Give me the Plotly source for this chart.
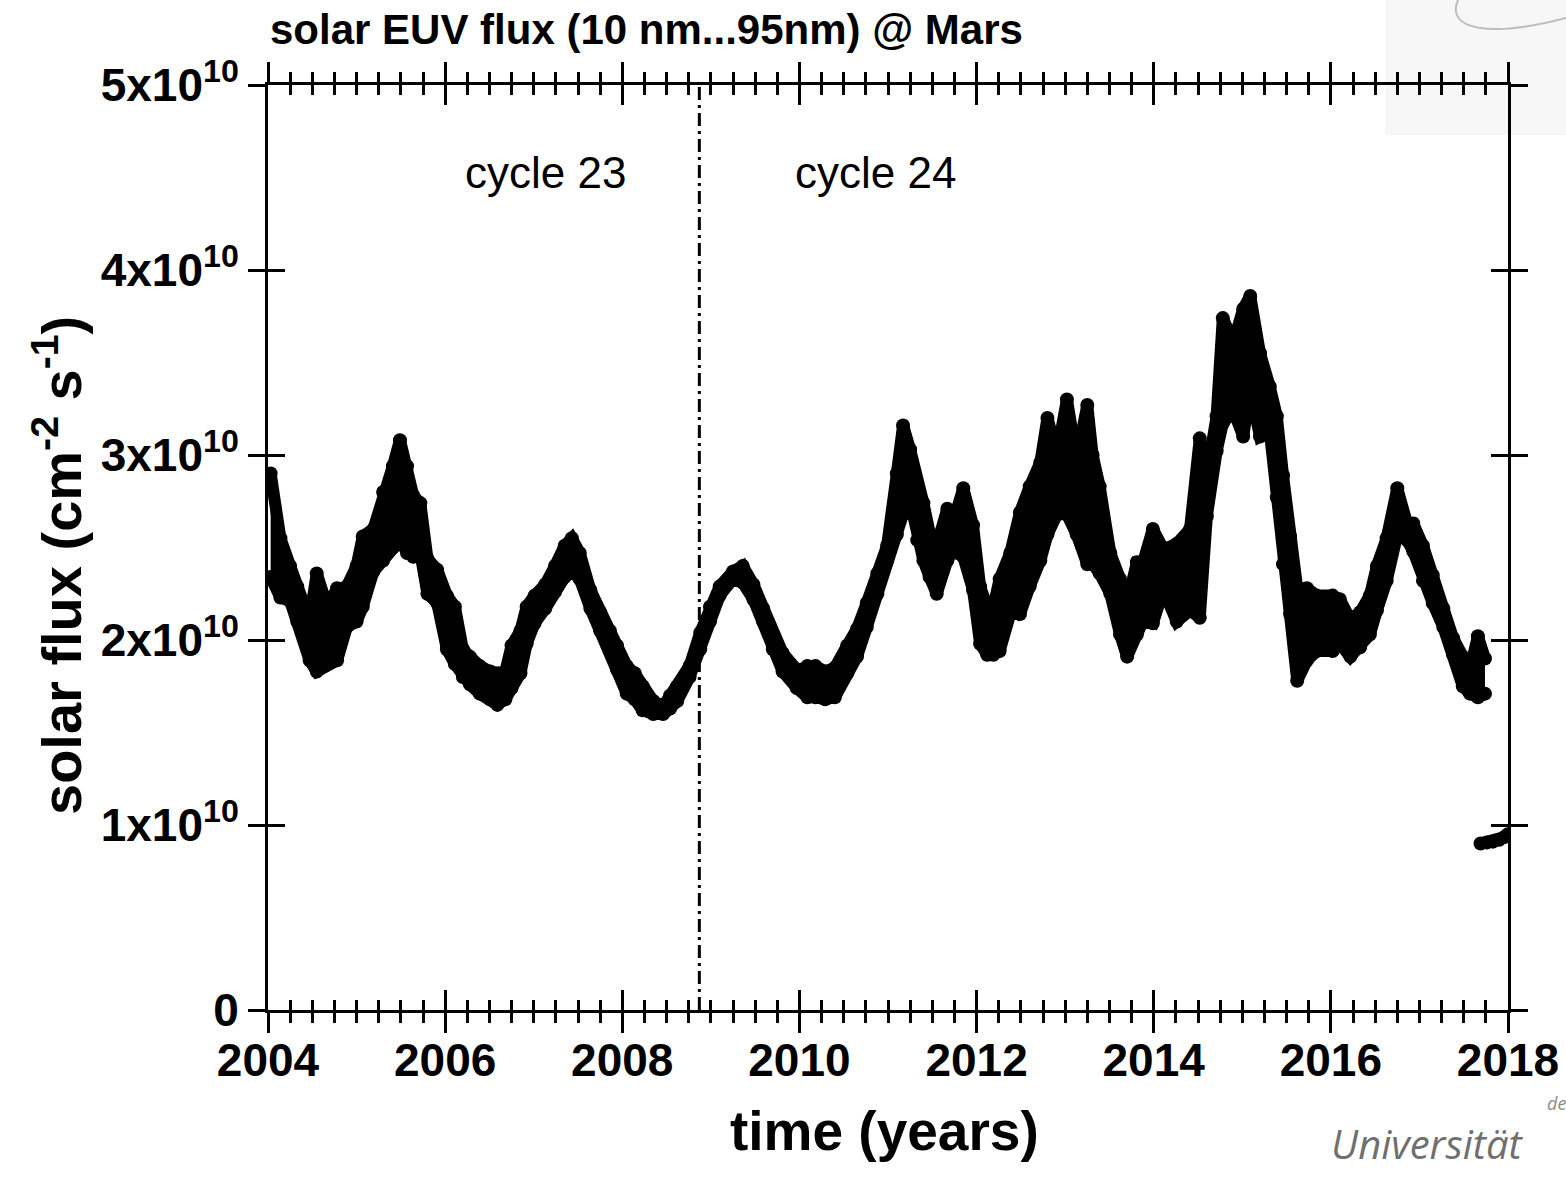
import plotly.graph_objects as go

# ---------------- data ----------------
time_years = [
    2004.03, 2004.14, 2004.25, 2004.33, 2004.40, 2004.47, 2004.55, 2004.67, 2004.78, 2004.89,
    2005.00, 2005.07, 2005.19, 2005.30, 2005.41, 2005.49, 2005.57, 2005.64, 2005.72, 2005.80,
    2005.91, 2006.02, 2006.11, 2006.20, 2006.28, 2006.39, 2006.51, 2006.59, 2006.68, 2006.75,
    2006.85, 2006.92, 2007.01, 2007.13, 2007.24, 2007.35, 2007.43, 2007.52, 2007.64, 2007.75,
    2007.86, 2007.94, 2008.05, 2008.14, 2008.23, 2008.35, 2008.46, 2008.54, 2008.62, 2008.76,
    2008.88, 2008.99, 2009.10, 2009.25, 2009.36, 2009.48, 2009.59, 2009.70, 2009.81, 2009.97,
    2010.09, 2010.18, 2010.29, 2010.40, 2010.54, 2010.65, 2010.76, 2010.88, 2010.99, 2011.10,
    2011.17, 2011.25, 2011.33, 2011.40, 2011.47, 2011.55, 2011.67, 2011.73, 2011.85, 2011.96,
    2012.04, 2012.12, 2012.19, 2012.26, 2012.38, 2012.49, 2012.60, 2012.72, 2012.80, 2012.91,
    2013.02, 2013.13, 2013.25, 2013.31, 2013.39, 2013.51, 2013.62, 2013.70, 2013.81, 2013.88,
    2013.99, 2014.11, 2014.26, 2014.41, 2014.52, 2014.60, 2014.71, 2014.78, 2014.90, 2015.01,
    2015.09, 2015.20, 2015.31, 2015.39, 2015.46, 2015.54, 2015.62, 2015.73, 2015.84, 2016.02,
    2016.10, 2016.22, 2016.33, 2016.44, 2016.52, 2016.63, 2016.75, 2016.86, 2016.93, 2017.04,
    2017.15, 2017.27, 2017.38, 2017.49, 2017.57, 2017.66, 2017.74,
]

# upper edge of the scatter band (cm^-2 s^-1)
flux_upper = [
    2.90e10, 2.55e10, 2.40e10, 2.29e10, 2.17e10, 2.11e10, 2.36e10, 2.18e10, 2.28e10, 2.29e10,
    2.40e10, 2.56e10, 2.60e10, 2.80e10, 2.94e10, 3.08e10, 2.94e10, 2.78e10, 2.74e10, 2.44e10,
    2.38e10, 2.24e10, 2.18e10, 1.95e10, 1.91e10, 1.86e10, 1.83e10, 1.82e10, 1.83e10, 1.97e10,
    2.05e10, 2.18e10, 2.24e10, 2.30e10, 2.40e10, 2.51e10, 2.55e10, 2.47e10, 2.27e10, 2.15e10,
    2.05e10, 1.97e10, 1.86e10, 1.82e10, 1.75e10, 1.67e10, 1.64e10, 1.70e10, 1.75e10, 1.86e10,
    2.04e10, 2.18e10, 2.29e10, 2.37e10, 2.40e10, 2.30e10, 2.17e10, 2.02e10, 1.93e10, 1.84e10,
    1.86e10, 1.86e10, 1.83e10, 1.85e10, 1.97e10, 2.06e10, 2.20e10, 2.36e10, 2.51e10, 2.90e10,
    3.16e10, 3.03e10, 2.83e10, 2.74e10, 2.58e10, 2.51e10, 2.71e10, 2.63e10, 2.82e10, 2.62e10,
    2.29e10, 2.18e10, 2.18e10, 2.33e10, 2.47e10, 2.69e10, 2.83e10, 2.96e10, 3.20e10, 3.01e10,
    3.30e10, 2.98e10, 3.27e10, 3.00e10, 2.83e10, 2.47e10, 2.33e10, 2.20e10, 2.42e10, 2.42e10,
    2.60e10, 2.49e10, 2.52e10, 2.60e10, 3.09e10, 2.89e10, 3.21e10, 3.74e10, 3.61e10, 3.79e10,
    3.86e10, 3.55e10, 3.37e10, 3.21e10, 2.89e10, 2.56e10, 2.28e10, 2.28e10, 2.24e10, 2.24e10,
    2.22e10, 2.11e10, 2.15e10, 2.24e10, 2.40e10, 2.55e10, 2.82e10, 2.63e10, 2.63e10, 2.51e10,
    2.35e10, 2.17e10, 2.01e10, 1.91e10, 1.84e10, 2.02e10, 1.90e10,
]

# lower edge of the scatter band (cm^-2 s^-1)
flux_lower = [
    2.34e10, 2.23e10, 2.21e10, 2.10e10, 2.03e10, 1.89e10, 1.83e10, 1.87e10, 1.89e10, 2.07e10,
    2.10e10, 2.18e10, 2.37e10, 2.43e10, 2.50e10, 2.54e10, 2.47e10, 2.45e10, 2.47e10, 2.25e10,
    2.20e10, 1.95e10, 1.87e10, 1.80e10, 1.76e10, 1.71e10, 1.68e10, 1.65e10, 1.68e10, 1.74e10,
    1.82e10, 1.98e10, 2.09e10, 2.17e10, 2.26e10, 2.34e10, 2.37e10, 2.33e10, 2.17e10, 2.05e10,
    1.94e10, 1.84e10, 1.71e10, 1.68e10, 1.62e10, 1.60e10, 1.60e10, 1.63e10, 1.67e10, 1.80e10,
    1.95e10, 2.10e10, 2.24e10, 2.33e10, 2.31e10, 2.22e10, 2.10e10, 1.95e10, 1.83e10, 1.74e10,
    1.69e10, 1.69e10, 1.68e10, 1.69e10, 1.82e10, 1.91e10, 2.07e10, 2.25e10, 2.43e10, 2.57e10,
    2.68e10, 2.75e10, 2.54e10, 2.43e10, 2.34e10, 2.25e10, 2.43e10, 2.48e10, 2.45e10, 2.27e10,
    1.98e10, 1.92e10, 1.92e10, 1.94e10, 2.14e10, 2.14e10, 2.29e10, 2.43e10, 2.57e10, 2.68e10,
    2.68e10, 2.57e10, 2.41e10, 2.41e10, 2.36e10, 2.25e10, 2.03e10, 1.91e10, 2.03e10, 2.10e10,
    2.09e10, 2.27e10, 2.10e10, 2.16e10, 2.12e10, 2.67e10, 3.02e10, 3.17e10, 3.24e10, 3.10e10,
    3.35e10, 3.10e10, 3.13e10, 2.77e10, 2.41e10, 2.14e10, 1.78e10, 1.89e10, 1.94e10, 1.94e10,
    1.98e10, 1.91e10, 1.96e10, 2.03e10, 2.16e10, 2.32e10, 2.57e10, 2.54e10, 2.48e10, 2.32e10,
    2.20e10, 2.07e10, 1.92e10, 1.75e10, 1.71e10, 1.69e10, 1.71e10,
]

# separate short segment at the end of the record
tail_years = [2017.69, 2017.76, 2017.83, 2017.90, 2017.96, 2018.00]
tail_flux = [0.90e10, 0.905e10, 0.91e10, 0.92e10, 0.935e10, 0.95e10]

cycle_boundary = 2008.87
cycle_labels = ["cycle 23", "cycle 24"]
cycle_label_years = [2007.13, 2010.86]

x_range = [2004, 2018]
y_range = [0, 5e10]
y_tickvals = [0, 1e10, 2e10, 3e10, 4e10, 5e10]
y_ticktext = ["0", "1x10<sup>10</sup>", "2x10<sup>10</sup>", "3x10<sup>10</sup>",
              "4x10<sup>10</sup>", "5x10<sup>10</sup>"]

title_text = "solar EUV flux (10 nm...95nm) @ Mars"
x_title = "time (years)"
y_title = "solar flux (cm<sup>-2</sup> s<sup>-1</sup>)"

# ---------------- figure ----------------
FONT = "Liberation Sans, Arial, Helvetica, sans-serif"
LINE_W = 12
DOT = 14

fig = go.Figure()
fig.add_trace(go.Scatter(
    x=time_years, y=flux_upper, mode="lines+markers",
    line=dict(color="black", width=LINE_W), marker=dict(color="black", size=DOT),
    showlegend=False, hoverinfo="skip"))
fig.add_trace(go.Scatter(
    x=time_years, y=flux_lower, mode="lines+markers", fill="tonexty", fillcolor="black",
    line=dict(color="black", width=LINE_W), marker=dict(color="black", size=DOT),
    showlegend=False, hoverinfo="skip"))
fig.add_trace(go.Scatter(
    x=tail_years, y=tail_flux, mode="lines+markers",
    line=dict(color="black", width=LINE_W), marker=dict(color="black", size=DOT),
    showlegend=False, hoverinfo="skip"))
fig.add_trace(go.Scatter(
    x=[cycle_boundary, cycle_boundary], y=y_range, mode="lines",
    line=dict(color="black", width=3, dash="13px,5px,3px,5px"),
    xaxis="x2", yaxis="y2", showlegend=False, hoverinfo="skip"))

tick_font = dict(family=FONT, size=46, color="black", weight="bold")

x_common = dict(range=x_range, tickmode="linear", tick0=2004, dtick=2,
                showgrid=False, zeroline=False, showline=True, linecolor="black",
                linewidth=3, tickwidth=3, tickcolor="black", ticklen=20,
                mirror="allticks", automargin=False)
y_common = dict(range=y_range, tickmode="array", tickvals=y_tickvals,
                showgrid=False, zeroline=False, showline=True, linecolor="black",
                linewidth=3, tickwidth=3, tickcolor="black", ticklen=17,
                mirror="allticks", automargin=False)

fig.update_layout(
    width=1566, height=1186, autosize=False,
    margin=dict(l=268, r=58, t=85, b=176),
    paper_bgcolor="white", plot_bgcolor="white",
    showlegend=False,
    xaxis=dict(**x_common, ticks="outside", tickformat="d", tickfont=tick_font,
               ticklabelstandoff=-12,
               minor=dict(ticks="outside", tick0=2004, dtick=0.25, ticklen=10,
                          tickwidth=2.5, tickcolor="black", showgrid=False)),
    yaxis=dict(**y_common, ticks="outside", ticktext=y_ticktext, tickfont=tick_font),
    xaxis2=dict(**x_common, ticks="inside", overlaying="x", anchor="y2",
                showticklabels=False,
                minor=dict(ticks="inside", tick0=2004, dtick=0.25, ticklen=10,
                           tickwidth=2.5, tickcolor="black", showgrid=False)),
    yaxis2=dict(**y_common, ticks="inside", overlaying="y", anchor="x2",
                showticklabels=False),
)

annotations = [
    dict(text=title_text, xref="paper", yref="paper", x=0.0, y=1.0595,
         xanchor="left", yanchor="middle", showarrow=False,
         font=dict(family=FONT, size=42, color="black", weight="bold")),
    dict(text=x_title, xref="paper", yref="paper", x=0.497, y=-0.131,
         xanchor="center", yanchor="middle", showarrow=False,
         font=dict(family=FONT, size=55, color="black", weight="bold")),
    dict(text=y_title, xref="paper", yref="paper", x=-0.1694, y=0.481, textangle=-90,
         xanchor="center", yanchor="middle", showarrow=False,
         font=dict(family=FONT, size=56, color="black", weight="bold")),
]
for lab, yr in zip(cycle_labels, cycle_label_years):
    annotations.append(dict(text=lab, xref="x", yref="paper", x=yr, y=0.905,
                            xanchor="center", yanchor="middle", showarrow=False,
                            font=dict(family=FONT, size=44, color="black")))
annotations.append(dict(text="Universität", xref="paper", yref="paper", x=0.935, y=-0.144,
                        xanchor="center", yanchor="middle", showarrow=False,
                        font=dict(family="Open Sans, DejaVu Sans, sans-serif", size=40,
                                  color="#6f6f6f", style="italic")))
annotations.append(dict(text="de", xref="paper", yref="paper", x=1.039, y=-0.101,
                        xanchor="center", yanchor="middle", showarrow=False,
                        font=dict(family="Open Sans, DejaVu Sans, sans-serif", size=18,
                                  color="#8a8a8a", style="italic")))
fig.update_layout(annotations=annotations)

fig.update_layout(shapes=[
    dict(type="rect", xref="paper", yref="paper", x0=0.9008, x1=1.0468, y0=0.9459, y1=1.0919,
         fillcolor="#f7f7f7", line=dict(width=0), layer="below"),
    dict(type="path", xref="paper", yref="paper",
         path="M 0.9597 1.0919 C 0.9492 1.0595 0.9855 1.0508 1.0468 1.0724",
         line=dict(color="#bdbdbd", width=2), layer="below"),
])

fig.write_html("out.html")
